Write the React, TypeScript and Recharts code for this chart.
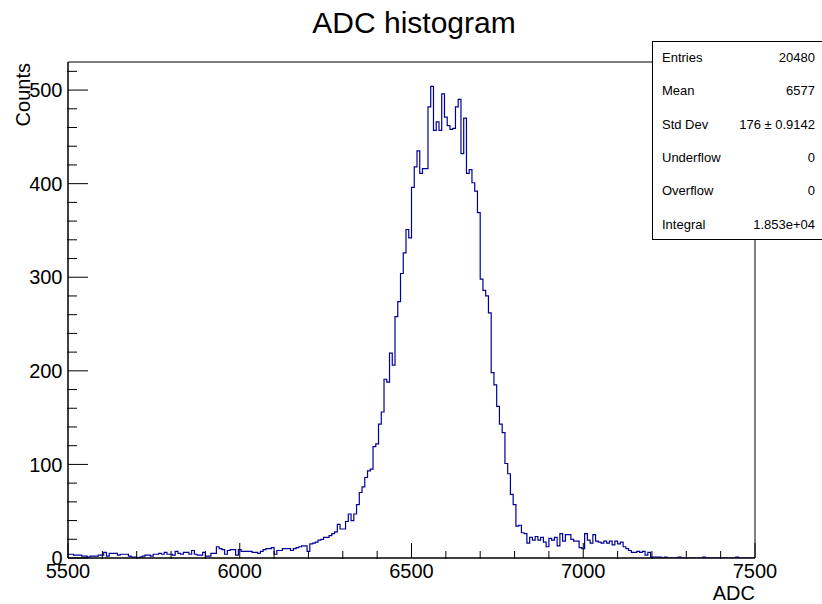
import React from 'react';
import { ComposedChart, Line, XAxis, YAxis, ReferenceArea } from 'recharts';

// Histogram binning: 250 bins of 8 ADC from 5500 to 7500
const binLow = 5500;
const binWidth = 8;

// Counts per bin
const counts: number[] = [
  4, 4, 3, 3, 3, 2, 2, 1, 2, 2,
  2, 3, 3, 6, 2, 5, 5, 5, 3, 4,
  4, 4, 2, 1, 1, 0, 1, 2, 3, 3,
  2, 4, 4, 5, 4, 6, 4, 4, 3, 7,
  5, 4, 6, 6, 4, 8, 4, 3, 3, 6,
  2, 2, 5, 5, 12, 10, 9, 4, 8, 9,
  9, 3, 9, 7, 7, 7, 7, 6, 6, 5,
  7, 9, 10, 10, 11, 4, 8, 8, 10, 10,
  10, 8, 10, 11, 12, 13, 13, 7, 15, 16,
  17, 19, 20, 22, 22, 24, 26, 28, 36, 31,
  31, 39, 47, 40, 47, 57, 70, 76, 86, 93,
  95, 119, 122, 143, 156, 191, 188, 219, 206, 258,
  274, 304, 326, 351, 342, 396, 418, 435, 411, 416,
  416, 482, 504, 457, 466, 457, 496, 471, 462, 458,
  459, 482, 490, 432, 470, 411, 415, 401, 392, 369,
  298, 286, 280, 262, 198, 185, 162, 143, 134, 101,
  90, 68, 57, 34, 35, 27, 26, 16, 22, 19,
  23, 19, 22, 17, 12, 21, 19, 22, 13, 26,
  18, 25, 25, 20, 18, 18, 11, 10, 26, 19,
  16, 25, 18, 17, 16, 18, 16, 18, 14, 18,
  15, 17, 12, 10, 8, 6, 6, 7, 6, 7,
  3, 6, 1, 1, 1, 1, 0, 1, 0, 0,
  0, 0, 1, 0, 0, 0, 0, 0, 0, 0,
  0, 1, 0, 0, 0, 0, 0, 0, 0, 0,
  0, 0, 0, 1, 0, 0, 0, 0, 0, 0,
];

const xMajorTicks = [5500, 6000, 6500, 7000, 7500];
const xMinorTicks = [5600, 5700, 5800, 5900, 6100, 6200, 6300, 6400, 6600, 6700, 6800, 6900, 7100, 7200, 7300, 7400];
const yMajorTicks = [0, 100, 200, 300, 400, 500];
const yMinorTicks = [20, 40, 60, 80, 120, 140, 160, 180, 220, 240, 260, 280, 320, 340, 360, 380, 420, 440, 460, 480, 520];

const statsLabels = ['Entries', 'Mean', 'Std Dev', 'Underflow', 'Overflow', 'Integral'];
const statsValues = ['20480', '6577', '176 \u00b1 0.9142', '0', '0', '1.853e+04'];

const titleText = 'ADC histogram';
const xTitle = 'ADC';
const yTitle = 'Counts';

const FONT = '"Liberation Sans", Helvetica, Arial, sans-serif';

const data = counts
  .map((c, i) => ({ adc: binLow + i * binWidth, count: c }))
  .concat([{ adc: binLow + counts.length * binWidth, count: counts[counts.length - 1] }]);

const noLabel = () => '';

export default function App() {
  return (
    <div style={{ position: 'absolute', left: 0, top: 0, width: 822, height: 604, background: '#fff' }}>
      <ComposedChart
        width={822}
        height={604}
        data={data}
        margin={{ top: 62, right: 67, bottom: 44, left: 66 }}
      >
        <XAxis
          xAxisId="main"
          dataKey="adc"
          type="number"
          domain={[5500, 7500]}
          allowDataOverflow
          ticks={xMajorTicks}
          interval={0}
          tickSize={-15}
          tickMargin={21}
          height={1}
          stroke="#000"
          tick={{ fill: '#000', fontSize: 20, fontFamily: FONT }}
        />
        <XAxis
          xAxisId="minor"
          dataKey="adc"
          type="number"
          domain={[5500, 7500]}
          allowDataOverflow
          ticks={xMinorTicks}
          interval={0}
          tickFormatter={noLabel}
          axisLine={false}
          tickSize={-8}
          height={1}
          stroke="#000"
        />
        <YAxis
          yAxisId="main"
          type="number"
          domain={[0, 530]}
          allowDataOverflow
          ticks={yMajorTicks}
          interval={0}
          tickSize={-20}
          tickMargin={25.5}
          width={1}
          stroke="#000"
          tick={{ fill: '#000', fontSize: 20, fontFamily: FONT }}
        />
        <YAxis
          yAxisId="minor"
          type="number"
          domain={[0, 530]}
          allowDataOverflow
          ticks={yMinorTicks}
          interval={0}
          tickFormatter={noLabel}
          axisLine={false}
          tickSize={-10}
          width={1}
          stroke="#000"
        />
        <ReferenceArea
          xAxisId="main"
          yAxisId="main"
          x1={5500}
          x2={7500}
          y1={0}
          y2={530}
          fill="none"
          fillOpacity={0}
          stroke="#000"
          strokeWidth={1}
          ifOverflow="visible"
        />
        <Line
          xAxisId="minor"
          yAxisId="minor"
          dataKey="count"
          stroke="none"
          dot={false}
          activeDot={false}
          isAnimationActive={false}
        />
        <Line
          xAxisId="main"
          yAxisId="main"
          type="stepAfter"
          dataKey="count"
          stroke="#000099"
          strokeWidth={1.2}
          dot={false}
          activeDot={false}
          isAnimationActive={false}
        />
      </ComposedChart>
      <svg
        width={822}
        height={604}
        style={{ position: 'absolute', left: 0, top: 0, pointerEvents: 'none' }}
        fontFamily={FONT}
      >
        <text x={414} y={33} textAnchor="middle" fontSize={30} fill="#000">{titleText}</text>
        <text x={755} y={600} textAnchor="end" fontSize={20} fill="#000">{xTitle}</text>
        <text transform="translate(30, 63) rotate(-90)" textAnchor="end" fontSize={20} fill="#000">{yTitle}</text>
        <rect x={652.5} y={41.5} width={170} height={198} fill="#fff" stroke="#000" strokeWidth={1} />
        {statsLabels.map((lab, k) => (
          <text key={lab} x={662} y={61.7 + 33.4 * k} fontSize={13} fill="#000">{lab}</text>
        ))}
        {statsValues.map((val, k) => (
          <text key={'v' + k} x={815} y={61.7 + 33.4 * k} textAnchor="end" fontSize={13} fill="#000">{val}</text>
        ))}
      </svg>
    </div>
  );
}
